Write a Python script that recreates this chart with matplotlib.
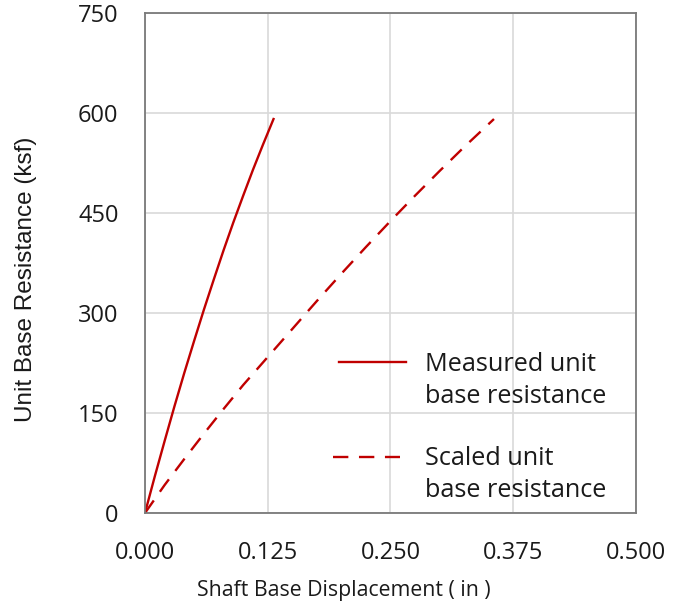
import matplotlib
matplotlib.use('Agg')
import matplotlib.pyplot as plt
from matplotlib.ticker import FormatStrFormatter
#
plt.rcParams['font.family'] = ['Open Sans', 'DejaVu Sans']
#
# measured unit base resistance
measured_disp = [0.0, 0.010, 0.020, 0.030, 0.040, 0.050, 0.060, 0.070, 0.080, 0.090, 0.100, 0.110, 0.120, 0.1309]
measured_res = [0, 55, 108, 160, 210, 258, 305, 350, 394, 436, 476, 515, 552, 591]
# scaled unit base resistance
scaled_disp = [0.0, 0.020, 0.040, 0.060, 0.080, 0.100, 0.125, 0.150, 0.175, 0.200, 0.225, 0.250, 0.275, 0.300, 0.325, 0.3554]
scaled_res = [0, 42, 81, 119, 156, 192, 234, 276, 318, 359, 399, 438, 476, 513, 549, 591]
#
xticks = [0.0, 0.125, 0.25, 0.375, 0.5]
yticks = [0, 150, 300, 450, 600, 750]
labels = [['Measured unit', 'base resistance'], ['Scaled unit', 'base resistance']]
#
red = '#C00000'
txt = '#1a1a1a'
dash = (0, (6.5, 4.5))
#
fig = plt.figure(figsize=(6.93, 6.09), dpi=100)
ax = fig.add_axes([0.2092, 0.1576, 0.7085, 0.821])
#
ax.plot(measured_disp, measured_res, color=red, lw=1.7)
ax.plot(scaled_disp, scaled_res, color=red, lw=1.7, linestyle=dash)
#
ax.set_xlim(0, 0.5)
ax.set_ylim(0, 750)
ax.set_xticks(xticks)
ax.set_yticks(yticks)
ax.xaxis.set_major_formatter(FormatStrFormatter('%.3f'))
ax.grid(color='#D9D9D9', lw=1.2)
ax.set_axisbelow(True)
ax.tick_params(length=0, labelsize=17, colors=txt)
ax.tick_params(axis='x', pad=20)
ax.tick_params(axis='y', pad=19)
#
for side in ['top', 'right', 'left', 'bottom']:
	ax.spines[side].set_color('#7A7A7A')
	ax.spines[side].set_linewidth(1.3)
#
ax.set_xlabel('Shaft Base Displacement ( in )', fontsize=15.3, color=txt, va='center')
ax.xaxis.set_label_coords(0.405, -0.154)
ax.set_ylabel('Unit Base Resistance (ksf)', fontsize=17.5, color=txt, va='center', family=['Liberation Sans', 'DejaVu Sans'])
ax.yaxis.set_label_coords(-0.242, 0.468)
#
# legend, drawn by hand so the handle sits on the first text line
handle_x = [[0.395, 0.532], [0.383, 0.519]]
handle_y = [0.302, 0.112]
styles = ['-', dash]
text_y = [[0.284, 0.220], [0.096, 0.032]]
for i in range(2):
	ax.plot(handle_x[i], [handle_y[i], handle_y[i]], color=red, lw=1.7, linestyle=styles[i], transform=ax.transAxes, clip_on=False)
	for j in range(2):
		ax.text(0.570, text_y[i][j], labels[i][j], transform=ax.transAxes, fontsize=18.2, color=txt,
				va='baseline', ha='left')
#
plt.savefig('out.png', dpi=100)
